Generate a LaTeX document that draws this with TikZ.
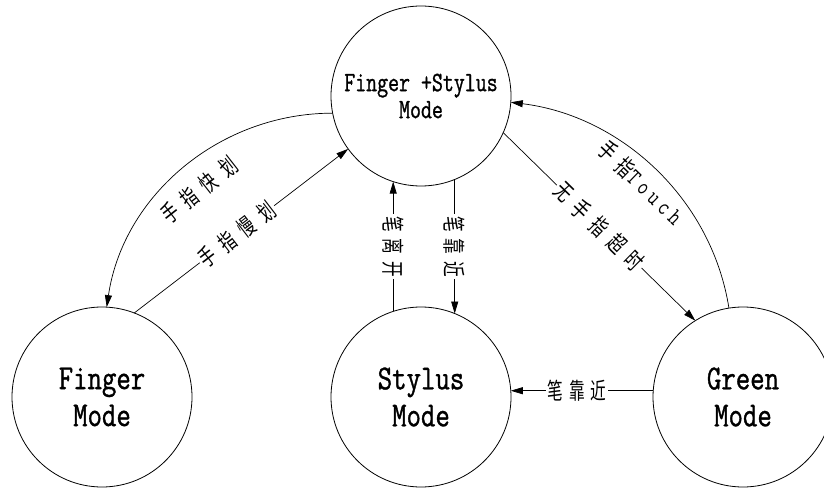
\documentclass[tikz,border=0pt]{standalone}
\usepackage{fontspec}
\usetikzlibrary{arrows.meta}
\newfontfamily\cjk{Noto Sans CJK SC}[FakeStretch=0.68]
\newfontfamily\modefont{Latin Modern Mono}[FakeStretch=0.8,FakeBold=1]
\newfontfamily\topfont{Latin Modern Mono}[FakeStretch=0.76,FakeBold=1]
\newfontfamily\latin{Latin Modern Mono}[FakeStretch=0.8]
\newcommand\cgap{\hspace{9pt}}
\newcommand\lgap{\hspace{4.5pt}}

\begin{document}
\begin{tikzpicture}[x=1pt,y=1pt,
  state/.style={circle,draw,line width=0.8pt,minimum size=180pt,inner sep=0pt,outer sep=0pt,align=center},
  link/.style={line width=0.7pt,-{Triangle[length=12pt,width=7pt]}},
  lbl/.style={font=\cjk\fontsize{23}{23}\selectfont,inner sep=1pt},
  onlink/.style={lbl,fill=white,inner sep=2pt}]
\useasboundingbox (0,0) rectangle (824,488);

% states
\node[state,font=\topfont\fontsize{28}{27}\selectfont] (T) at (421,392) {Finger +Stylus\\Mode};
\node[state,font=\modefont\fontsize{35}{37}\selectfont] (F) at (102,91) {Finger\\Mode};
\node[state,font=\modefont\fontsize{35}{37}\selectfont] (S) at (421,91) {Stylus\\Mode};
\node[state,font=\modefont\fontsize{35}{37}\selectfont] (G) at (743,91) {Green\\Mode};

% transitions
\draw[link] (T.191) .. controls +(180:113) and +(81.6:113) .. (F.87);
\node[lbl,rotate=38] (lfast) at (199,298) {手\cgap 指\cgap 快\cgap 划};

\draw[link] (F.69) -- node[onlink,pos=0.48,sloped] (lslow) {手\cgap 指\cgap 慢\cgap 划} (T.216);

\draw[link] (S.108) -- node[onlink,rotate=-90] (lleave) {笔\hspace{7pt}离\hspace{7pt}开} (T.252);
\draw[link] (T.292) -- node[onlink,rotate=-90] (lnear) {笔\hspace{7pt}靠\hspace{7pt}近} (S.68);

\draw[link] (T.336) -- node[onlink,pos=0.5,sloped] (ltimeout) {无\cgap 手\cgap 指\cgap 超\cgap 时} (G.122.5);

\draw[link] (G.99) .. controls +(99:111) and +(-7:111) .. (T.356);
\node[lbl,rotate=-44] (ltouch) at (641,305) {手\cgap 指{\latin\fontsize{24}{24}\selectfont T\lgap o\lgap u\lgap c\lgap h}};

\draw[link] (G.176) -- node[onlink,pos=0.535] (lpen) {笔\hspace{6pt}靠\hspace{6pt}近} (S.4);
\end{tikzpicture}
\end{document}
